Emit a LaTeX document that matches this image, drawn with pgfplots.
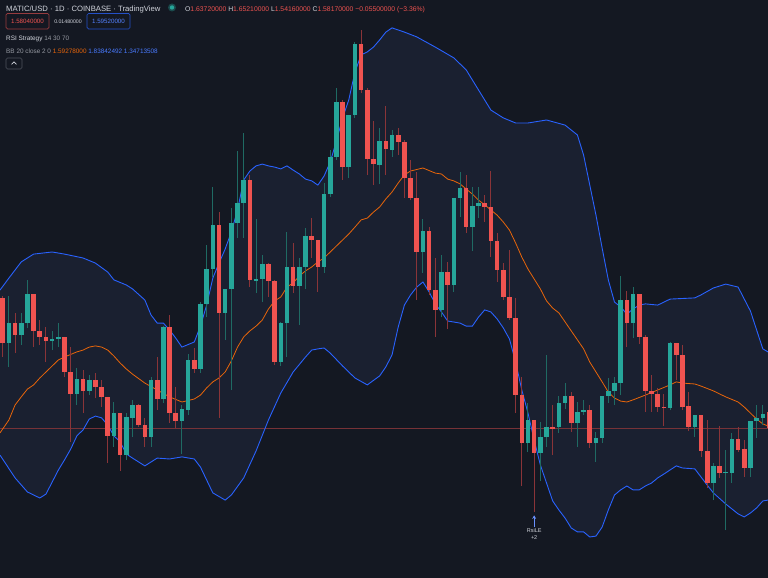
\documentclass[border=0pt]{standalone}
\usepackage{pgfplots}
\pgfplotsset{compat=1.18}
\usepackage{pgfplotstable}
\usepgfplotslibrary{fillbetween}
\usetikzlibrary{arrows.meta}
\usepackage{fontspec}
\setmainfont{Liberation Sans}

\definecolor{bg}{HTML}{141822}
\definecolor{band}{HTML}{1A2030}
\definecolor{up}{HTML}{26A69A}
\definecolor{dn}{HTML}{EF5350}
\definecolor{upwick}{HTML}{1F6A63}
\definecolor{dnwick}{HTML}{8A3438}
\definecolor{bbblue}{HTML}{2962FF}
\definecolor{bborange}{HTML}{E8650A}
\definecolor{txt}{HTML}{D1D4DC}
\definecolor{dim}{HTML}{9598A1}

% candles: index, open, high, low, close
\pgfplotstableread{
i o h l c
1 1.867 2.023 1.787 1.933
3 1.893 1.967 1.860 1.933
4 1.933 2.077 1.917 2.030
8 1.873 1.907 1.843 1.880
9 1.880 1.933 1.853 1.887
12 1.697 1.783 1.660 1.747
14 1.707 1.760 1.693 1.743
18 1.557 1.670 1.520 1.633
20 1.493 1.633 1.477 1.620
21 1.617 1.677 1.553 1.660
24 1.553 1.753 1.520 1.743
26 1.680 1.923 1.667 1.920
29 1.607 1.660 1.497 1.647
30 1.643 1.830 1.627 1.810
32 1.780 2.003 1.767 1.997
33 1.997 2.193 1.953 2.113
34 2.113 2.387 2.087 2.260
36 1.967 2.047 1.877 2.047
37 2.047 2.317 1.710 2.267
38 2.267 2.507 2.217 2.333
39 2.333 2.567 2.217 2.410
41 2.073 2.280 2.033 2.080
42 2.080 2.160 2.003 2.130
45 1.803 1.937 1.790 1.933
46 1.933 2.237 1.820 2.120
48 2.057 2.150 1.927 2.120
49 2.120 2.250 2.047 2.223
52 2.120 2.400 2.100 2.363
53 2.363 2.510 2.353 2.487
54 2.487 2.717 2.477 2.670
56 2.453 2.627 2.417 2.627
57 2.627 2.870 2.617 2.863
61 2.460 2.583 2.397 2.540
63 2.510 2.577 2.487 2.560
68 2.170 2.280 2.100 2.240
71 1.977 2.160 1.953 2.103
73 2.060 2.350 2.037 2.350
74 2.350 2.437 2.287 2.383
76 2.253 2.387 2.173 2.323
77 2.323 2.387 2.283 2.333
85 1.533 1.667 1.503 1.610
87 1.500 1.603 1.407 1.553
88 1.553 1.827 1.520 1.587
90 1.587 1.690 1.567 1.667
91 1.667 1.733 1.647 1.690
93 1.600 1.670 1.520 1.637
94 1.637 1.677 1.627 1.643
96 1.533 1.570 1.470 1.550
97 1.550 1.690 1.533 1.690
98 1.690 1.750 1.667 1.707
99 1.707 1.753 1.660 1.733
100 1.733 2.090 1.693 2.010
102 1.933 2.053 1.883 2.030
108 1.650 1.870 1.643 1.867
112 1.587 1.627 1.553 1.627
115 1.400 1.467 1.343 1.457
117 1.433 1.510 1.243 1.437
118 1.433 1.567 1.400 1.547
121 1.450 1.607 1.420 1.607
122 1.607 1.660 1.550 1.617
123 1.617 1.660 1.593 1.630
}\upcandles

\pgfplotstableread{
i o h l c
0 2.017 2.023 1.820 1.867
2 1.933 1.967 1.833 1.893
5 2.030 2.030 1.853 1.907
6 1.907 1.943 1.860 1.887
7 1.887 1.920 1.803 1.873
10 1.887 1.887 1.753 1.770
11 1.770 1.853 1.537 1.697
13 1.747 1.777 1.633 1.707
15 1.743 1.767 1.683 1.720
16 1.720 1.743 1.653 1.687
17 1.687 1.687 1.467 1.557
19 1.633 1.633 1.440 1.493
22 1.660 1.663 1.587 1.593
23 1.593 1.617 1.520 1.553
25 1.743 1.820 1.643 1.680
27 1.920 1.960 1.600 1.633
28 1.633 1.720 1.583 1.607
31 1.810 1.850 1.767 1.780
35 2.260 2.303 1.617 1.967
40 2.410 2.427 2.053 2.077
43 2.130 2.133 2.020 2.073
44 2.073 2.077 1.793 1.803
47 2.120 2.200 2.033 2.057
50 2.223 2.283 2.150 2.210
51 2.210 2.210 2.037 2.120
55 2.670 2.677 2.410 2.453
58 2.863 2.910 2.700 2.710
59 2.710 2.717 2.427 2.480
60 2.480 2.607 2.393 2.463
62 2.540 2.657 2.427 2.513
64 2.560 2.583 2.493 2.537
65 2.537 2.543 2.350 2.417
66 2.417 2.477 2.343 2.350
67 2.350 2.437 2.010 2.170
69 2.240 2.253 2.027 2.043
70 2.043 2.150 1.887 1.977
72 2.103 2.137 1.913 2.060
75 2.383 2.427 2.233 2.253
78 2.333 2.360 2.270 2.320
79 2.320 2.440 2.153 2.207
80 2.207 2.233 2.070 2.110
81 2.110 2.133 2.010 2.020
82 2.020 2.177 1.943 1.950
83 1.950 2.017 1.633 1.693
84 1.693 1.753 1.390 1.533
86 1.610 1.610 1.303 1.500
89 1.587 1.660 1.493 1.580
92 1.690 1.703 1.570 1.600
95 1.643 1.660 1.517 1.533
101 2.010 2.040 1.853 1.933
103 2.030 2.030 1.863 1.887
104 1.887 1.893 1.637 1.707
105 1.707 1.760 1.637 1.697
106 1.697 1.717 1.637 1.653
107 1.653 1.697 1.590 1.650
109 1.867 1.867 1.743 1.827
110 1.827 1.860 1.643 1.653
111 1.657 1.703 1.573 1.587
113 1.627 1.627 1.487 1.507
114 1.507 1.610 1.383 1.400
116 1.457 1.590 1.417 1.433
119 1.547 1.587 1.503 1.510
120 1.513 1.543 1.420 1.450
124 1.6372 1.6521 1.5416 1.5817
}\downcandles

% Bollinger bands
\pgfplotstableread{
i p
-0.44 2.043
1 2.083
3 2.137
5 2.163
8 2.170
10 2.163
13 2.150
15 2.133
17 2.103
18 2.077
20 2.060
21 2.047
23 2.010
24 1.960
25 1.933
26 1.933
27 1.910
28 1.883
29 1.853
31 1.870
32 1.923
33 1.993
34 2.083
35 2.133
36 2.180
37 2.237
38 2.310
39 2.410
40 2.440
41 2.457
42 2.463
43 2.457
44 2.453
45 2.447
46 2.457
47 2.443
48 2.430
49 2.413
50 2.407
51 2.393
52 2.423
53 2.470
54 2.540
55 2.617
56 2.677
57 2.770
58 2.827
59 2.837
60 2.853
61 2.877
62 2.903
63 2.917
65 2.903
67 2.887
70 2.853
73 2.817
75 2.777
77 2.710
79 2.643
81 2.617
83 2.600
85 2.600
88 2.610
91 2.593
93 2.560
94 2.493
95 2.393
96 2.293
97 2.183
98 2.077
99 2.003
100 1.987
101 1.963
102 1.980
103 1.993
104 1.997
106 1.993
107 2.003
108 2.013
112 2.017
113 2.027
115 2.050
117 2.063
119 2.053
120 2.013
121 1.973
122 1.910
123 1.847
123.84 1.837
}\bbup

\pgfplotstableread{
i p
-0.44 1.493
2 1.417
4 1.370
6 1.350
7 1.363
8 1.403
9 1.443
10 1.477
11 1.513
12 1.557
13 1.577
14 1.613
15 1.623
16 1.617
17 1.593
18 1.557
19 1.537
20 1.497
21 1.483
23 1.457
25 1.483
27 1.480
29 1.487
31 1.480
32 1.453
33 1.410
34 1.367
36 1.343
37 1.360
39 1.417
41 1.507
43 1.610
45 1.700
47 1.770
49 1.820
50 1.843
51 1.847
52 1.850
53 1.833
55 1.790
57 1.750
59 1.727
61 1.757
62 1.787
63 1.827
64 1.920
65 1.993
66 2.027
67 2.053
68 2.070
69 2.037
70 1.997
71 1.970
72 1.940
74 1.933
75 1.923
76 1.923
77 1.953
78 1.977
79 1.970
80 1.947
81 1.917
82 1.880
83 1.803
84 1.710
85 1.633
86 1.543
87 1.460
88 1.400
89 1.340
90 1.310
91 1.283
92 1.250
93 1.237
94 1.237
95 1.220
96 1.223
97 1.253
98 1.310
99 1.360
100 1.377
101 1.390
102 1.377
103 1.377
104 1.390
105 1.400
106 1.417
107 1.430
109 1.457
110 1.450
112 1.447
113 1.420
114 1.393
115 1.367
117 1.330
119 1.297
120 1.287
121 1.300
122 1.317
123 1.340
123.84 1.343
}\bblo

\pgfplotstableread{
i p
-0.44 1.567
1 1.610
2 1.660
3 1.687
4 1.713
5 1.727
6 1.750
7 1.770
8 1.790
9 1.810
10 1.820
12 1.837
13 1.843
14 1.853
15 1.857
16 1.853
17 1.843
18 1.823
19 1.800
20 1.780
21 1.763
23 1.733
25 1.710
27 1.687
29 1.670
31 1.680
32 1.693
33 1.717
34 1.737
35 1.750
36 1.770
37 1.807
38 1.853
39 1.887
40 1.907
41 1.923
42 1.943
43 1.980
44 2.007
45 2.020
46 2.053
47 2.067
48 2.090
49 2.107
50 2.120
51 2.137
52 2.150
53 2.170
54 2.190
55 2.210
56 2.230
57 2.253
58 2.277
59 2.283
60 2.303
61 2.320
62 2.347
63 2.370
64 2.400
65 2.427
66 2.440
68 2.450
70 2.433
71 2.430
72 2.413
73 2.407
74 2.397
75 2.380
76 2.363
77 2.343
78 2.327
79 2.310
80 2.293
81 2.270
82 2.243
83 2.200
84 2.153
85 2.113
86 2.080
87 2.047
88 2.007
89 1.983
90 1.967
91 1.937
92 1.907
93 1.877
94 1.847
95 1.803
96 1.770
97 1.737
98 1.703
99 1.683
100 1.673
101 1.670
102 1.677
104 1.693
106 1.710
108 1.727
109 1.737
110 1.733
112 1.730
113 1.723
115 1.707
117 1.687
119 1.670
120 1.653
121 1.633
122 1.613
123 1.597
123.84 1.590
}\bbmid

\begin{document}
\begin{tikzpicture}
\begin{axis}[
  width=768pt, height=578pt, scale only axis,
  xmin=-0.44, xmax=123.84, ymin=1.0833, ymax=3.01,
  axis line style={draw=none},
  xtick=\empty, ytick=\empty,
  axis background/.style={fill=bg},
  clip=true,
]
% band area
\addplot[name path=bbU, draw=none, forget plot] table[x=i, y=p] {\bbup};
\addplot[name path=bbL, draw=none, forget plot] table[x=i, y=p] {\bblo};
\addplot[fill=band, draw=none, forget plot] fill between[of=bbU and bbL];

% last price line
\addplot[dn!45!bg, line width=0.8pt, forget plot] coordinates {(-0.44,1.5817) (123.84,1.5817)};

% bands
\addplot[bbblue, line width=0.9pt] table[x=i, y=p] {\bbup};
\addplot[bbblue, line width=0.9pt] table[x=i, y=p] {\bblo};
\addplot[bborange, line width=0.8pt] table[x=i, y=p] {\bbmid};

% wicks
\addplot[draw=none, mark=none, forget plot,
  error bars/.cd, y dir=plus, y explicit, error mark=none,
  error bar style={draw=upwick, line width=1pt}]
  table[x=i, y=l, y error expr=\thisrow{h}-\thisrow{l}] {\upcandles};
\addplot[draw=none, mark=none, forget plot,
  error bars/.cd, y dir=plus, y explicit, error mark=none,
  error bar style={draw=dnwick, line width=1pt}]
  table[x=i, y=l, y error expr=\thisrow{h}-\thisrow{l}] {\downcandles};
% bodies
\addplot[draw=none, mark=none, forget plot,
  error bars/.cd, y dir=plus, y explicit, error mark=none,
  error bar style={draw=up, line width=4.6pt}]
  table[x=i, y=o, y error expr=\thisrow{c}-\thisrow{o}] {\upcandles};
\addplot[draw=none, mark=none, forget plot,
  error bars/.cd, y dir=plus, y explicit, error mark=none,
  error bar style={draw=dn, line width=4.6pt}]
  table[x=i, y=c, y error expr=\thisrow{o}-\thisrow{c}] {\downcandles};

% strategy signal
\addplot[bbblue!70!white, line width=1pt, -{Stealth[length=3.5pt,width=4pt]}, forget plot]
  coordinates {(86,1.252) (86,1.292)}
  node[pos=0, below=0.5pt, align=center, text=txt, font=\fontsize{5.5}{6.5}\selectfont, inner sep=0.5pt] {RsiLE\\+2};

% header
\node[anchor=base west, text=txt, font=\fontsize{7.7}{9}\selectfont, inner sep=0pt]
  at ([xshift=6pt, yshift=-11.5pt]rel axis cs:0,1) {MATIC/USD · 1D · COINBASE · TradingView};
\fill[up!35!bg] ([xshift=172pt, yshift=-7.5pt]rel axis cs:0,1) circle (4pt);
\fill[up] ([xshift=172pt, yshift=-7.5pt]rel axis cs:0,1) circle (2.2pt);
\node[anchor=base west, font=\fontsize{6.8}{8}\selectfont, inner sep=0pt]
  at ([xshift=185pt, yshift=-11.5pt]rel axis cs:0,1)
  {\textcolor{txt}{O}\textcolor{dn}{1.63720000} \textcolor{txt}{H}\textcolor{dn}{1.65210000} \textcolor{txt}{L}\textcolor{dn}{1.54160000} \textcolor{txt}{C}\textcolor{dn}{1.58170000} \textcolor{dn}{−0.05500000 (−3.36\%)}};

\draw[dn!60!bg, line width=0.7pt, rounded corners=1.5pt, fill=bg]
  ([xshift=6pt, yshift=-13.5pt]rel axis cs:0,1) rectangle ([xshift=49pt, yshift=-29pt]rel axis cs:0,1);
\node[anchor=base, text=dn, font=\fontsize{6.2}{7}\selectfont, inner sep=0pt]
  at ([xshift=27.5pt, yshift=-23.7pt]rel axis cs:0,1) {1.58040000};
\node[anchor=base, text=txt, font=\fontsize{5.2}{7}\selectfont, inner sep=0pt]
  at ([xshift=68pt, yshift=-23.5pt]rel axis cs:0,1) {0.01480000};
\draw[bbblue!75!bg, line width=0.7pt, rounded corners=1.5pt, fill=bg]
  ([xshift=87pt, yshift=-13.5pt]rel axis cs:0,1) rectangle ([xshift=130pt, yshift=-29pt]rel axis cs:0,1);
\node[anchor=base, text=bbblue!80!white, font=\fontsize{6.2}{7}\selectfont, inner sep=0pt]
  at ([xshift=108.5pt, yshift=-23.7pt]rel axis cs:0,1) {1.59520000};

\node[anchor=base west, font=\fontsize{6.4}{7}\selectfont, inner sep=0pt]
  at ([xshift=6pt, yshift=-40.5pt]rel axis cs:0,1) {\textcolor{txt}{RSI Strategy} \textcolor{dim}{14 30 70}};
\node[anchor=base west, font=\fontsize{6.4}{7}\selectfont, inner sep=0pt]
  at ([xshift=6pt, yshift=-54pt]rel axis cs:0,1)
  {\textcolor{dim}{BB 20 close 2 0} \textcolor{bborange}{1.59278000} \textcolor{bbblue!85!white}{1.83842492} \textcolor{bbblue!85!white}{1.34713508}};

\draw[dim!45!bg, line width=0.6pt, rounded corners=1.5pt]
  ([xshift=6pt, yshift=-58pt]rel axis cs:0,1) rectangle ([xshift=22pt, yshift=-69pt]rel axis cs:0,1);
\draw[txt, line width=0.7pt]
  ([xshift=11.5pt, yshift=-64.5pt]rel axis cs:0,1) -- ([xshift=14pt, yshift=-62pt]rel axis cs:0,1) -- ([xshift=16.5pt, yshift=-64.5pt]rel axis cs:0,1);
\end{axis}
\end{tikzpicture}
\end{document}
